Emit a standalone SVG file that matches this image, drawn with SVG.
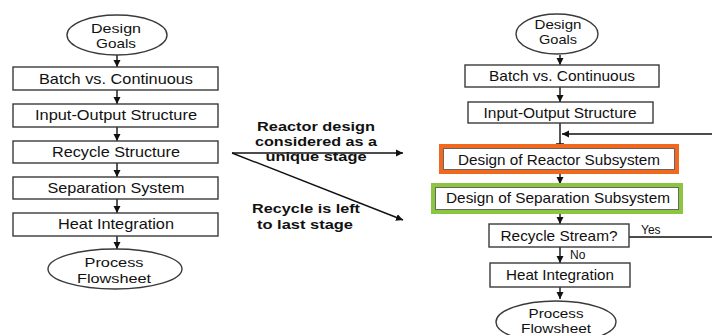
<svg xmlns="http://www.w3.org/2000/svg" width="712" height="335" viewBox="0 0 712 335">
<defs>
<marker id="ah" markerWidth="8" markerHeight="8" refX="7" refY="4" orient="auto" markerUnits="userSpaceOnUse">
<path d="M0,0.5 L7,4 L0,7.5 Z" fill="#111"/>
</marker>
<marker id="tb" markerWidth="8" markerHeight="8" refX="4" refY="4" orient="auto" markerUnits="userSpaceOnUse">
<path d="M4,0 L4,8" stroke="#111" stroke-width="1.5"/>
</marker>
<style>
.box{fill:#fff;stroke:#3a3a3a;stroke-width:1.4}
.t{font-family:"Liberation Sans",Arial,sans-serif;font-size:15px;fill:#111;text-anchor:middle}
.e{font-family:"Liberation Sans",Arial,sans-serif;font-size:13px;fill:#111;text-anchor:middle}
.b{font-family:"Liberation Sans",Arial,sans-serif;font-size:12.5px;font-weight:bold;fill:#111;text-anchor:middle}
.s{font-family:"Liberation Sans",Arial,sans-serif;font-size:12px;fill:#111}
.c{stroke:#111;stroke-width:1.4;fill:none}
</style>
</defs>
<rect width="712" height="335" fill="#fff"/>

<g id="connectors">
<line class="c" x1="117" y1="55" x2="117" y2="67" marker-end="url(#ah)"/>
<line class="c" x1="117" y1="90" x2="117" y2="104" marker-end="url(#ah)"/>
<line class="c" x1="117" y1="127" x2="117" y2="141" marker-end="url(#ah)"/>
<line class="c" x1="117" y1="163" x2="117" y2="177" marker-end="url(#ah)"/>
<line class="c" x1="117" y1="199" x2="117" y2="213" marker-end="url(#ah)"/>
<line class="c" x1="117" y1="236" x2="117" y2="249" marker-end="url(#ah)"/>
<line class="c" x1="232" y1="153" x2="403" y2="153" marker-end="url(#ah)"/>
<line class="c" x1="232" y1="153" x2="403" y2="220" marker-end="url(#ah)"/>
<line class="c" x1="560" y1="55" x2="560" y2="65" marker-end="url(#ah)"/>
<line class="c" x1="560" y1="87" x2="560" y2="102" marker-end="url(#ah)"/>
<line class="c" x1="560" y1="123" x2="560" y2="144" marker-end="url(#tb)"/>
<line class="c" x1="712" y1="134" x2="562" y2="134" marker-end="url(#ah)"/>
<line class="c" x1="560" y1="172" x2="560" y2="184" marker-end="url(#ah)"/>
<line class="c" x1="560" y1="212" x2="560" y2="224" marker-end="url(#ah)"/>
<line class="c" x1="629" y1="237" x2="712" y2="237"/>
<line class="c" x1="560" y1="247" x2="560" y2="263" marker-end="url(#ah)"/>
<line class="c" x1="560" y1="287" x2="560" y2="299" marker-end="url(#ah)"/>
<text class="s" x="641" y="234">Yes</text>
<text class="s" x="570" y="259">No</text>
<text class="b" x="316" y="131" textLength="118" lengthAdjust="spacingAndGlyphs">Reactor design</text>
<text class="b" x="316" y="146" textLength="122" lengthAdjust="spacingAndGlyphs">considered as a</text>
<text class="b" x="316" y="161" textLength="101" lengthAdjust="spacingAndGlyphs">unique stage</text>
<text class="b" x="306" y="213" textLength="108" lengthAdjust="spacingAndGlyphs">Recycle is left</text>
<text class="b" x="305" y="229" textLength="96" lengthAdjust="spacingAndGlyphs">to last stage</text>
</g>

<g id="l-goals">
<ellipse cx="117" cy="35" rx="50" ry="20" class="box"/>
<text class="e" x="116" y="33" textLength="50" lengthAdjust="spacingAndGlyphs">Design</text>
<text class="e" x="116" y="48" textLength="40" lengthAdjust="spacingAndGlyphs">Goals</text>
</g>
<g id="l-batch">
<rect class="box" x="13" y="67" width="205" height="23"/>
<text class="t" x="116" y="84" textLength="154" lengthAdjust="spacingAndGlyphs">Batch vs. Continuous</text>
</g>
<g id="l-io">
<rect class="box" x="13" y="104" width="205" height="23"/>
<text class="t" x="116" y="120" textLength="162" lengthAdjust="spacingAndGlyphs">Input-Output Structure</text>
</g>
<g id="l-recycle">
<rect class="box" x="13" y="141" width="205" height="22"/>
<text class="t" x="116" y="157" textLength="128" lengthAdjust="spacingAndGlyphs">Recycle Structure</text>
</g>
<g id="l-sep">
<rect class="box" x="13" y="177" width="205" height="22"/>
<text class="t" x="116" y="193" textLength="137" lengthAdjust="spacingAndGlyphs">Separation System</text>
</g>
<g id="l-heat">
<rect class="box" x="13" y="213" width="205" height="23"/>
<text class="t" x="116" y="229" textLength="116" lengthAdjust="spacingAndGlyphs">Heat Integration</text>
</g>
<g id="l-flowsheet">
<ellipse cx="115" cy="269" rx="67" ry="20" class="box"/>
<text class="e" x="114" y="267" textLength="59" lengthAdjust="spacingAndGlyphs">Process</text>
<text class="e" x="114" y="283" textLength="74" lengthAdjust="spacingAndGlyphs">Flowsheet</text>
</g>

<g id="r-goals">
<ellipse cx="557" cy="34" rx="41" ry="20" class="box"/>
<text class="e" x="558" y="29" textLength="47" lengthAdjust="spacingAndGlyphs">Design</text>
<text class="e" x="558" y="44" textLength="38" lengthAdjust="spacingAndGlyphs">Goals</text>
</g>
<g id="r-batch">
<rect class="box" x="465" y="65" width="194" height="22"/>
<text class="t" x="562" y="81" textLength="146" lengthAdjust="spacingAndGlyphs">Batch vs. Continuous</text>
</g>
<g id="r-io">
<rect class="box" x="468" y="102" width="185" height="21"/>
<text class="t" x="560" y="118" textLength="153" lengthAdjust="spacingAndGlyphs">Input-Output Structure</text>
</g>
<g id="r-reactor">
<rect x="441" y="146" width="236" height="26" fill="#fff" stroke="#f2691e" stroke-width="4"/>
<rect x="443.5" y="148.5" width="231" height="21" fill="none" stroke="#666" stroke-width="1"/>
<text class="t" x="559" y="165" textLength="202" lengthAdjust="spacingAndGlyphs">Design of Reactor Subsystem</text>
</g>
<g id="r-sep">
<rect x="433" y="185" width="248" height="27" fill="#fff" stroke="#8cc63f" stroke-width="4"/>
<rect x="435.5" y="187.5" width="243" height="22" fill="none" stroke="#666" stroke-width="1"/>
<text class="t" x="558" y="203" textLength="224" lengthAdjust="spacingAndGlyphs">Design of Separation Subsystem</text>
</g>
<g id="r-recycle">
<rect class="box" x="489" y="224" width="140" height="23"/>
<text class="t" x="559" y="241" textLength="117" lengthAdjust="spacingAndGlyphs">Recycle Stream?</text>
</g>
<g id="r-heat">
<rect class="box" x="490" y="263" width="140" height="24"/>
<text class="t" x="560" y="280" textLength="108" lengthAdjust="spacingAndGlyphs">Heat Integration</text>
</g>
<g id="r-flowsheet">
<ellipse cx="556" cy="322" rx="60" ry="21" class="box"/>
<text class="e" x="556" y="318" textLength="55" lengthAdjust="spacingAndGlyphs">Process</text>
<text class="e" x="556" y="333" textLength="70" lengthAdjust="spacingAndGlyphs">Flowsheet</text>
</g>
</svg>
